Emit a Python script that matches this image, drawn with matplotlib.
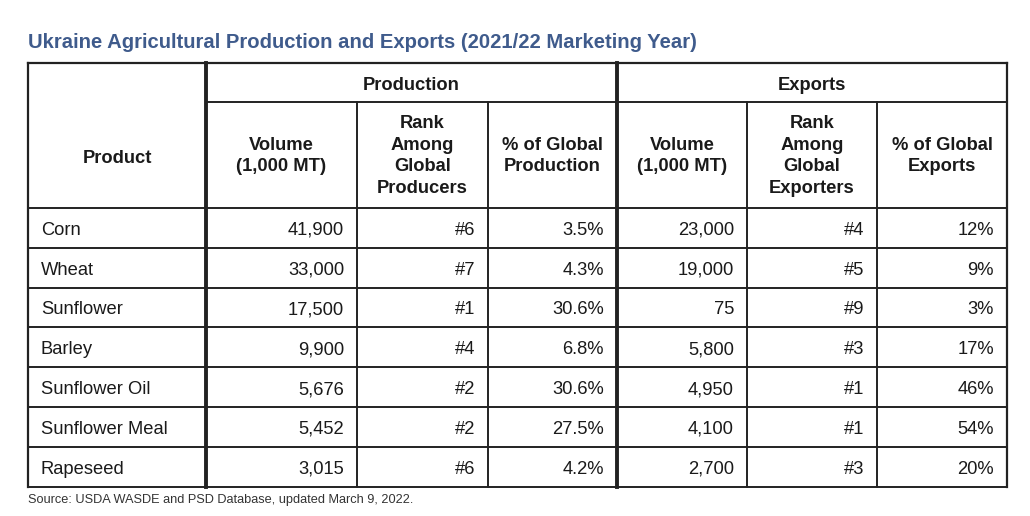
import matplotlib.pyplot as plt

plt.rcParams['font.family'] = ['Liberation Sans', 'DejaVu Sans']

# Table data
products = ["Corn", "Wheat", "Sunflower", "Barley", "Sunflower Oil", "Sunflower Meal", "Rapeseed"]
prod_volume = ["41,900", "33,000", "17,500", "9,900", "5,676", "5,452", "3,015"]
prod_rank = ["#6", "#7", "#1", "#4", "#2", "#2", "#6"]
prod_share = ["3.5%", "4.3%", "30.6%", "6.8%", "30.6%", "27.5%", "4.2%"]
exp_volume = ["23,000", "19,000", "75", "5,800", "4,950", "4,100", "2,700"]
exp_rank = ["#4", "#5", "#9", "#3", "#1", "#1", "#3"]
exp_share = ["12%", "9%", "3%", "17%", "46%", "54%", "20%"]

group_headers = ["Production", "Exports"]
sub_headers = ["Volume\n(1,000 MT)", "Rank\nAmong\nGlobal\nProducers", "% of Global\nProduction",
               "Volume\n(1,000 MT)", "Rank\nAmong\nGlobal\nExporters", "% of Global\nExports"]

title = "Ukraine Agricultural Production and Exports (2021/22 Marketing Year)"
source = "Source: USDA WASDE and PSD Database, updated March 9, 2022."

# Layout (pixels)
W, H = 1030, 516
col_x = [28, 206, 357, 488, 617, 747, 877, 1007]
top, head1, head2 = 63, 102, 208
row_h = 39.8
line_c = "#222222"
text_c = "#1a1a1a"

fig = plt.figure(figsize=(W / 100, H / 100), dpi=100)
ax = fig.add_axes([0, 0, 1, 1])
ax.set_xlim(0, W)
ax.set_ylim(H, 0)
ax.axis("off")

n = len(products)
bottom = head2 + n * row_h
row_y = [head2 + i * row_h for i in range(n + 1)]

# horizontal lines
ax.plot([col_x[0], col_x[-1]], [top, top], color=line_c, lw=1.6)
ax.plot([col_x[1], col_x[-1]], [head1, head1], color=line_c, lw=1.4)
for y in row_y:
    ax.plot([col_x[0], col_x[-1]], [y, y], color=line_c, lw=1.4)
# vertical lines
for i, x in enumerate(col_x):
    if i in (1, 4):
        lw, y0 = 2.8, top
    elif i in (0, 7):
        lw, y0 = 1.6, top
    else:
        lw, y0 = 1.4, head1
    ax.plot([x, x], [y0, bottom], color=line_c, lw=lw)

fs = 13.2
# title
ax.text(col_x[0], 42, title, color="#3f5b8c", fontsize=14.6, fontweight="bold",
        ha="left", va="center")

# headers
ax.text((col_x[0] + col_x[1]) / 2, 163, "Product", fontsize=fs,
        fontweight="bold", color=text_c, ha="center", va="baseline")
ax.text((col_x[1] + col_x[4]) / 2, 90, group_headers[0], fontsize=fs,
        fontweight="bold", color=text_c, ha="center", va="baseline")
ax.text((col_x[4] + col_x[7]) / 2, 90, group_headers[1], fontsize=fs,
        fontweight="bold", color=text_c, ha="center", va="baseline")
for j, h in enumerate(sub_headers):
    xc = (col_x[j + 1] + col_x[j + 2]) / 2
    ax.text(xc, (head1 + head2) / 2 + 1, h, fontsize=fs, fontweight="bold", color=text_c,
            ha="center", va="center", linespacing=1.38)

# body
cols = [prod_volume, prod_rank, prod_share, exp_volume, exp_rank, exp_share]
for i, p in enumerate(products):
    yb = row_y[i] + row_h / 2 + 7
    ax.text(col_x[0] + 13, yb, p, fontsize=fs, color=text_c, ha="left", va="baseline")
    for j, col in enumerate(cols):
        ax.text(col_x[j + 2] - 13, yb, col[i], fontsize=fs, color=text_c,
                ha="right", va="baseline")

ax.text(col_x[0], 500, source, fontsize=9.2, color="#333333", ha="left", va="center")

fig.savefig("out.png", dpi=100, facecolor="white")
